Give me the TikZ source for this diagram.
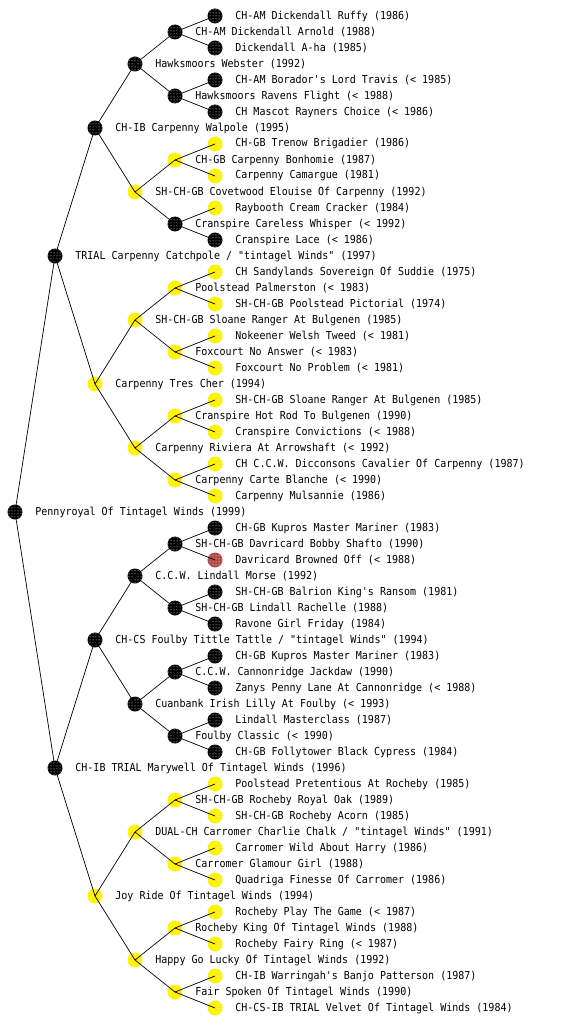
\documentclass[tikz,border=0pt]{standalone}
\usepackage{fontspec}
\setmonofont{DejaVu Sans Mono}[FakeStretch=0.91]
\usepackage{tikz}
\usetikzlibrary{patterns}
\definecolor{brique}{RGB}{176,72,72}

\begin{document}
\begin{tikzpicture}[x=1pt, y=-1pt,
    nom/.style={font=\ttfamily\fontsize{11}{12}\selectfont, inner sep=0pt, label distance=12.5pt},
    chien/.style={circle, inner sep=0pt, minimum size=15pt, label={[nom]right:{#1}}},
    noir/.style={chien={#1}, fill=black, postaction={pattern=dots, pattern color=white}},
    jaune/.style={chien={#1}, fill=yellow, postaction={pattern=dots, pattern color=yellow!30!white}},
    rouge/.style={chien={#1}, fill=brique, postaction={pattern=dots, pattern color=white}},
    lien/.style={line width=0.7pt}]
        \useasboundingbox (0,0) rectangle (560,1024);

        % Chien
        \node[noir={Pennyroyal Of Tintagel Winds (1999)}] (p) at (15,512) {};

        % Parents
        \node[noir={TRIAL Carpenny Catchpole / "tintagel Winds" (1997)}] (ps) at (55,256) {};
        \node[noir={CH-IB TRIAL Marywell Of Tintagel Winds (1996)}] (pd) at (55,768) {};

        % Grands-parents
        \node[noir={CH-IB Carpenny Walpole (1995)}] (pss) at (95,128) {};
        \node[jaune={Carpenny Tres Cher (1994)}] (psd) at (95,384) {};
        \node[noir={CH-CS Foulby Tittle Tattle / "tintagel Winds" (1994)}] (pds) at (95,640) {};
        \node[jaune={Joy Ride Of Tintagel Winds (1994)}] (pdd) at (95,896) {};

        % Arriere-grands-parents
        \node[noir={Hawksmoors Webster (1992)}] (psss) at (135,64) {};
        \node[jaune={SH-CH-GB Covetwood Elouise Of Carpenny (1992)}] (pssd) at (135,192) {};
        \node[jaune={SH-CH-GB Sloane Ranger At Bulgenen (1985)}] (psds) at (135,320) {};
        \node[jaune={Carpenny Riviera At Arrowshaft (< 1992)}] (psdd) at (135,448) {};
        \node[noir={C.C.W. Lindall Morse (1992)}] (pdss) at (135,576) {};
        \node[noir={Cuanbank Irish Lilly At Foulby (< 1993)}] (pdsd) at (135,704) {};
        \node[jaune={DUAL-CH Carromer Charlie Chalk / "tintagel Winds" (1991)}] (pdds) at (135,832) {};
        \node[jaune={Happy Go Lucky Of Tintagel Winds (1992)}] (pddd) at (135,960) {};

        % Generation 4
        \node[noir={CH-AM Dickendall Arnold (1988)}] (pssss) at (175,32) {};
        \node[noir={Hawksmoors Ravens Flight (< 1988)}] (psssd) at (175,96) {};
        \node[jaune={CH-GB Carpenny Bonhomie (1987)}] (pssds) at (175,160) {};
        \node[noir={Cranspire Careless Whisper (< 1992)}] (pssdd) at (175,224) {};
        \node[jaune={Poolstead Palmerston (< 1983)}] (psdss) at (175,288) {};
        \node[jaune={Foxcourt No Answer (< 1983)}] (psdsd) at (175,352) {};
        \node[jaune={Cranspire Hot Rod To Bulgenen (1990)}] (psdds) at (175,416) {};
        \node[jaune={Carpenny Carte Blanche (< 1990)}] (psddd) at (175,480) {};
        \node[noir={SH-CH-GB Davricard Bobby Shafto (1990)}] (pdsss) at (175,544) {};
        \node[noir={SH-CH-GB Lindall Rachelle (1988)}] (pdssd) at (175,608) {};
        \node[noir={C.C.W. Cannonridge Jackdaw (1990)}] (pdsds) at (175,672) {};
        \node[noir={Foulby Classic (< 1990)}] (pdsdd) at (175,736) {};
        \node[jaune={SH-CH-GB Rocheby Royal Oak (1989)}] (pddss) at (175,800) {};
        \node[jaune={Carromer Glamour Girl (1988)}] (pddsd) at (175,864) {};
        \node[jaune={Rocheby King Of Tintagel Winds (1988)}] (pddds) at (175,928) {};
        \node[jaune={Fair Spoken Of Tintagel Winds (1990)}] (pdddd) at (175,992) {};

        % Generation 5
        \node[noir={CH-AM Dickendall Ruffy (1986)}] (psssss) at (215,16) {};
        \node[noir={Dickendall A-ha (1985)}] (pssssd) at (215,48) {};
        \node[noir={CH-AM Borador's Lord Travis (< 1985)}] (psssds) at (215,80) {};
        \node[noir={CH Mascot Rayners Choice (< 1986)}] (psssdd) at (215,112) {};
        \node[jaune={CH-GB Trenow Brigadier (1986)}] (pssdss) at (215,144) {};
        \node[jaune={Carpenny Camargue (1981)}] (pssdsd) at (215,176) {};
        \node[jaune={Raybooth Cream Cracker (1984)}] (pssdds) at (215,208) {};
        \node[noir={Cranspire Lace (< 1986)}] (pssddd) at (215,240) {};
        \node[jaune={CH Sandylands Sovereign Of Suddie (1975)}] (psdsss) at (215,272) {};
        \node[jaune={SH-CH-GB Poolstead Pictorial (1974)}] (psdssd) at (215,304) {};
        \node[jaune={Nokeener Welsh Tweed (< 1981)}] (psdsds) at (215,336) {};
        \node[jaune={Foxcourt No Problem (< 1981)}] (psdsdd) at (215,368) {};
        \node[jaune={SH-CH-GB Sloane Ranger At Bulgenen (1985)}] (psddss) at (215,400) {};
        \node[jaune={Cranspire Convictions (< 1988)}] (psddsd) at (215,432) {};
        \node[jaune={CH C.C.W. Dicconsons Cavalier Of Carpenny (1987)}] (psddds) at (215,464) {};
        \node[jaune={Carpenny Mulsannie (1986)}] (psdddd) at (215,496) {};
        \node[noir={CH-GB Kupros Master Mariner (1983)}] (pdssss) at (215,528) {};
        \node[rouge={Davricard Browned Off (< 1988)}] (pdsssd) at (215,560) {};
        \node[noir={SH-CH-GB Balrion King's Ransom (1981)}] (pdssds) at (215,592) {};
        \node[noir={Ravone Girl Friday (1984)}] (pdssdd) at (215,624) {};
        \node[noir={CH-GB Kupros Master Mariner (1983)}] (pdsdss) at (215,656) {};
        \node[noir={Zanys Penny Lane At Cannonridge (< 1988)}] (pdsdsd) at (215,688) {};
        \node[noir={Lindall Masterclass (1987)}] (pdsdds) at (215,720) {};
        \node[noir={CH-GB Follytower Black Cypress (1984)}] (pdsddd) at (215,752) {};
        \node[jaune={Poolstead Pretentious At Rocheby (1985)}] (pddsss) at (215,784) {};
        \node[jaune={SH-CH-GB Rocheby Acorn (1985)}] (pddssd) at (215,816) {};
        \node[jaune={Carromer Wild About Harry (1986)}] (pddsds) at (215,848) {};
        \node[jaune={Quadriga Finesse Of Carromer (1986)}] (pddsdd) at (215,880) {};
        \node[jaune={Rocheby Play The Game (< 1987)}] (pdddss) at (215,912) {};
        \node[jaune={Rocheby Fairy Ring (< 1987)}] (pdddsd) at (215,944) {};
        \node[jaune={CH-IB Warringah's Banjo Patterson (1987)}] (pdddds) at (215,976) {};
        \node[jaune={CH-CS-IB TRIAL Velvet Of Tintagel Winds (1984)}] (pddddd) at (215,1008) {};

        % Liens pere / mere
        \foreach \n in {p, ps, pd, pss, psd, pds, pdd, psss, pssd, psds, psdd, pdss, pdsd, pdds, pddd,
                        pssss, psssd, pssds, pssdd, psdss, psdsd, psdds, psddd,
                        pdsss, pdssd, pdsds, pdsdd, pddss, pddsd, pddds, pdddd} {
            \draw[lien] (\n.center) -- (\n s.center);
            \draw[lien] (\n.center) -- (\n d.center);
        }
    \end{tikzpicture}
\end{document}
